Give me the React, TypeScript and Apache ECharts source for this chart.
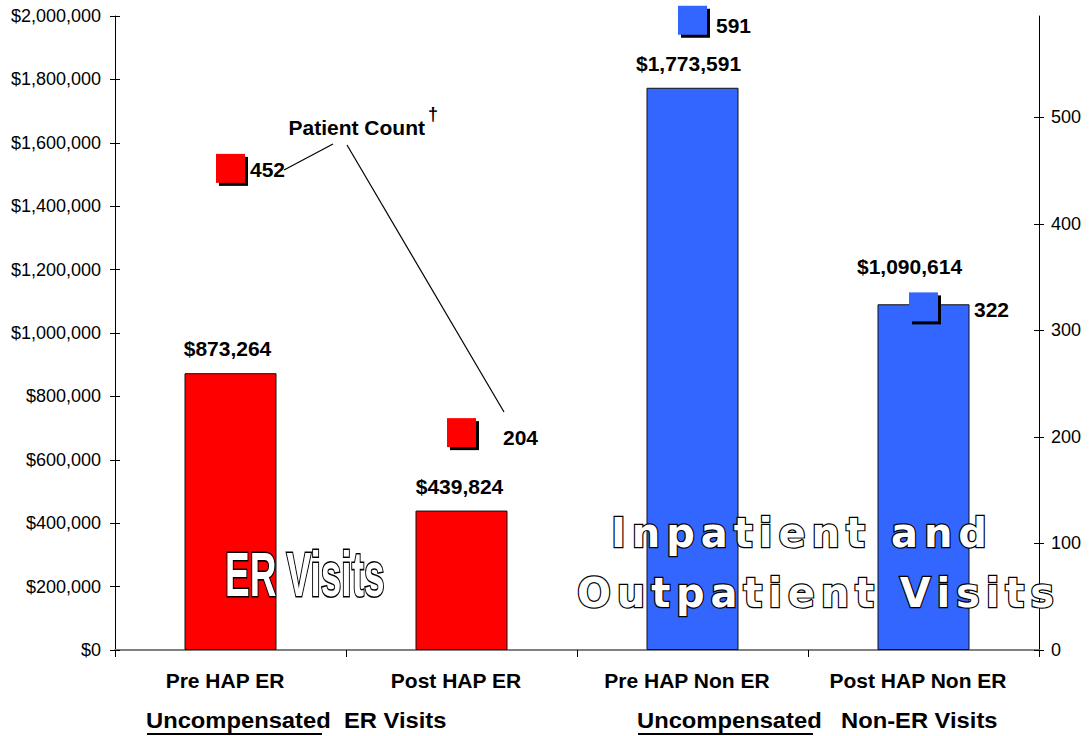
import React, { useEffect, useRef } from "react";
import * as echarts from "echarts";

const categories = ["Pre HAP ER", "Post HAP ER", "Pre HAP Non ER", "Post HAP Non ER"];
const costValues = [873264, 439824, 1773591, 1090614];
const patientCounts = [452, 204, 591, 322];
const barColors = ["#FF0000", "#FF0000", "#3366FF", "#3366FF"];
const rightTickValues = [0, 100, 200, 300, 400, 500];
const groupTitles = [
  ["Uncompensated", "ER Visits"],
  ["Uncompensated", "Non-ER Visits"],
];
const annotationTitle = "Patient Count";
const bigTitleER = "ER Visits";
const bigTitleInpatient = ["Inpatient and", "Outpatient Visits"];

// label layout tweaks (pixels)
const markerLabelDistance = [5, 27, 9, 36];
const markerLabelDy = [1, 5, 5, 3];
const barLabelOffset = [
  [-3, 0],
  [-2, 0],
  [-4, 0],
  [-14, -13],
];

const FONT = "'Liberation Sans', Arial, Helvetica, sans-serif";
const BIG_FONT = "'DejaVu Sans', 'Liberation Sans', sans-serif";

function measure(text: string, font: string): number {
  const c = document.createElement("canvas");
  const ctx = c.getContext("2d")!;
  ctx.font = font;
  return ctx.measureText(text).width;
}

function spacedText(text: string, startX: number, endX: number, cy: number, fontSize: number) {
  const font = `bold ${fontSize}px "DejaVu Sans"`;
  const chars = text.split("");
  const widths = chars.map((ch) => measure(ch, font));
  const total = widths.reduce((a, b) => a + b, 0);
  const gap = (endX - startX - total) / (chars.length - 1);
  const els: any[] = [];
  let x = startX;
  chars.forEach((ch, i) => {
    if (ch !== " ") {
      els.push({
        type: "text",
        x,
        y: cy,
        z: 100,
        style: {
          text: ch,
          fontFamily: BIG_FONT,
          fontSize,
          fontWeight: "bold",
          fill: "#ffffff",
          stroke: "#000000",
          lineWidth: 2.4,
          align: "left",
          verticalAlign: "middle",
        },
      });
    }
    x += widths[i] + gap;
  });
  return els;
}

export default function App() {
  const ref = useRef<HTMLDivElement>(null);

  useEffect(() => {
    document.body.style.margin = "0";
    if (!ref.current) return;
    const chart = echarts.init(ref.current, undefined, { renderer: "svg" });

    const boldText = (text: string, x: number, cy: number, size: number, sx = 1) => ({
      type: "text",
      x,
      y: cy,
      z: 100,
      scaleX: sx,
      style: {
        text,
        fontFamily: FONT,
        fontSize: size,
        fontWeight: "bold",
        fill: "#000",
        align: "left",
        verticalAlign: "middle",
      },
    });

    const graphics: any[] = [
      // annotation
      boldText(annotationTitle, 288.5, 127, 21),
      boldText("\u2020", 428, 114, 18),
      {
        type: "line",
        z: 100,
        shape: { x1: 333, y1: 144, x2: 284, y2: 170 },
        style: { stroke: "#000", lineWidth: 1.2 },
      },
      {
        type: "line",
        z: 100,
        shape: { x1: 347, y1: 145, x2: 504, y2: 412 },
        style: { stroke: "#000", lineWidth: 1.2 },
      },
      // bottom group titles
      boldText(groupTitles[0][0], 146, 720, 22, 1.08),
      boldText(groupTitles[0][1], 344, 720, 22, 1.08),
      boldText(groupTitles[1][0], 637, 720, 22, 1.08),
      boldText(groupTitles[1][1], 841, 720, 22, 1.08),
      {
        type: "line",
        z: 100,
        shape: { x1: 147, y1: 734, x2: 322, y2: 734 },
        style: { stroke: "#000", lineWidth: 2 },
      },
      {
        type: "line",
        z: 100,
        shape: { x1: 638, y1: 734, x2: 813, y2: 734 },
        style: { stroke: "#000", lineWidth: 2 },
      },
      // big outlined "ER Visits"
      {
        type: "text",
        x: 225,
        y: 574,
        z: 100,
        scaleX: 0.84,
        scaleY: 1.43,
        style: {
          text: bigTitleER,
          fontFamily: FONT,
          fontSize: 44,
          fontWeight: "bold",
          fill: "#ffffff",
          stroke: "#000000",
          lineWidth: 2.2,
          align: "left",
          verticalAlign: "middle",
        },
      },
      ...spacedText(bigTitleInpatient[0], 611, 987, 533, 40),
      ...spacedText(bigTitleInpatient[1], 577, 1054, 592.5, 40),
    ];

    const option: any = {
      animation: false,
      backgroundColor: "#ffffff",
      textStyle: { fontFamily: FONT },
      grid: { left: 115, right: 50, top: 16, bottom: 86, containLabel: false },
      xAxis: {
        type: "category",
        data: categories,
        axisLine: { show: true, lineStyle: { color: "#808080", width: 2 } },
        axisTick: { show: true, length: 7, lineStyle: { color: "#000", width: 1 } },
        axisLabel: {
          interval: 0,
          margin: 20,
          fontSize: 21,
          fontWeight: "bold",
          color: "#000",
          fontFamily: FONT,
          padding: [0, 11, 0, 0],
        },
        splitLine: { show: false },
      },
      yAxis: [
        {
          type: "value",
          position: "left",
          min: 0,
          max: 2000000,
          interval: 200000,
          axisLine: { show: true, lineStyle: { color: "#000", width: 1 } },
          axisTick: { show: true, length: 5, lineStyle: { color: "#000" } },
          axisLabel: {
            margin: 14,
            fontSize: 18,
            color: "#000",
            fontFamily: FONT,
            formatter: (v: number) => "$" + v.toLocaleString("en-US"),
          },
          splitLine: { show: false },
        },
        {
          type: "value",
          position: "right",
          min: 0,
          max: 595,
          axisLine: { show: true, lineStyle: { color: "#000", width: 1 } },
          axisTick: { show: true, length: 5, customValues: rightTickValues, lineStyle: { color: "#000" } },
          axisLabel: {
            margin: 12,
            fontSize: 18,
            color: "#000",
            fontFamily: FONT,
            customValues: rightTickValues,
          },
          splitLine: { show: false },
        },
        {
          type: "value",
          position: "left",
          min: 0,
          max: 2000000,
          interval: 200000,
          axisLine: { show: false },
          axisTick: { show: true, inside: true, length: 5, lineStyle: { color: "#000" } },
          axisLabel: { show: false },
          splitLine: { show: false },
        },
        {
          type: "value",
          position: "right",
          min: 0,
          max: 595,
          axisLine: { show: false },
          axisTick: { show: true, inside: true, length: 5, customValues: rightTickValues, lineStyle: { color: "#000" } },
          axisLabel: { show: false },
          splitLine: { show: false },
        },
      ],
      series: [
        {
          type: "bar",
          yAxisIndex: 0,
          barWidth: 92,
          data: costValues.map((v, i) => ({
            value: v,
            itemStyle: { color: barColors[i], borderColor: "#111", borderWidth: 1 },
            label: { offset: barLabelOffset[i] },
          })),
          label: {
            show: true,
            position: "top",
            distance: 14,
            fontSize: 21,
            fontWeight: "bold",
            color: "#000",
            fontFamily: FONT,
            formatter: (p: any) => "$" + Number(p.value).toLocaleString("en-US"),
          },
        },
        {
          type: "scatter",
          yAxisIndex: 1,
          symbol: "rect",
          symbolSize: 29,
          symbolOffset: [3, 3],
          silent: true,
          itemStyle: { color: "#000", opacity: 1 },
          data: patientCounts,
          z: 3,
        },
        {
          type: "scatter",
          yAxisIndex: 1,
          symbol: "rect",
          symbolSize: 29,
          z: 4,
          itemStyle: { opacity: 1 },
          data: patientCounts.map((v, i) => ({
            value: v,
            itemStyle: { color: barColors[i], opacity: 1 },
            label: {
              show: true,
              position: "right",
              distance: markerLabelDistance[i],
              offset: [0, markerLabelDy[i]],
              fontSize: 21,
              fontWeight: "bold",
              color: "#000",
              fontFamily: FONT,
            },
          })),
        },
      ],
      graphic: graphics,
    };

    chart.setOption(option);
    return () => chart.dispose();
  }, []);

  return <div ref={ref} style={{ width: 1089, height: 736 }} />;
}
